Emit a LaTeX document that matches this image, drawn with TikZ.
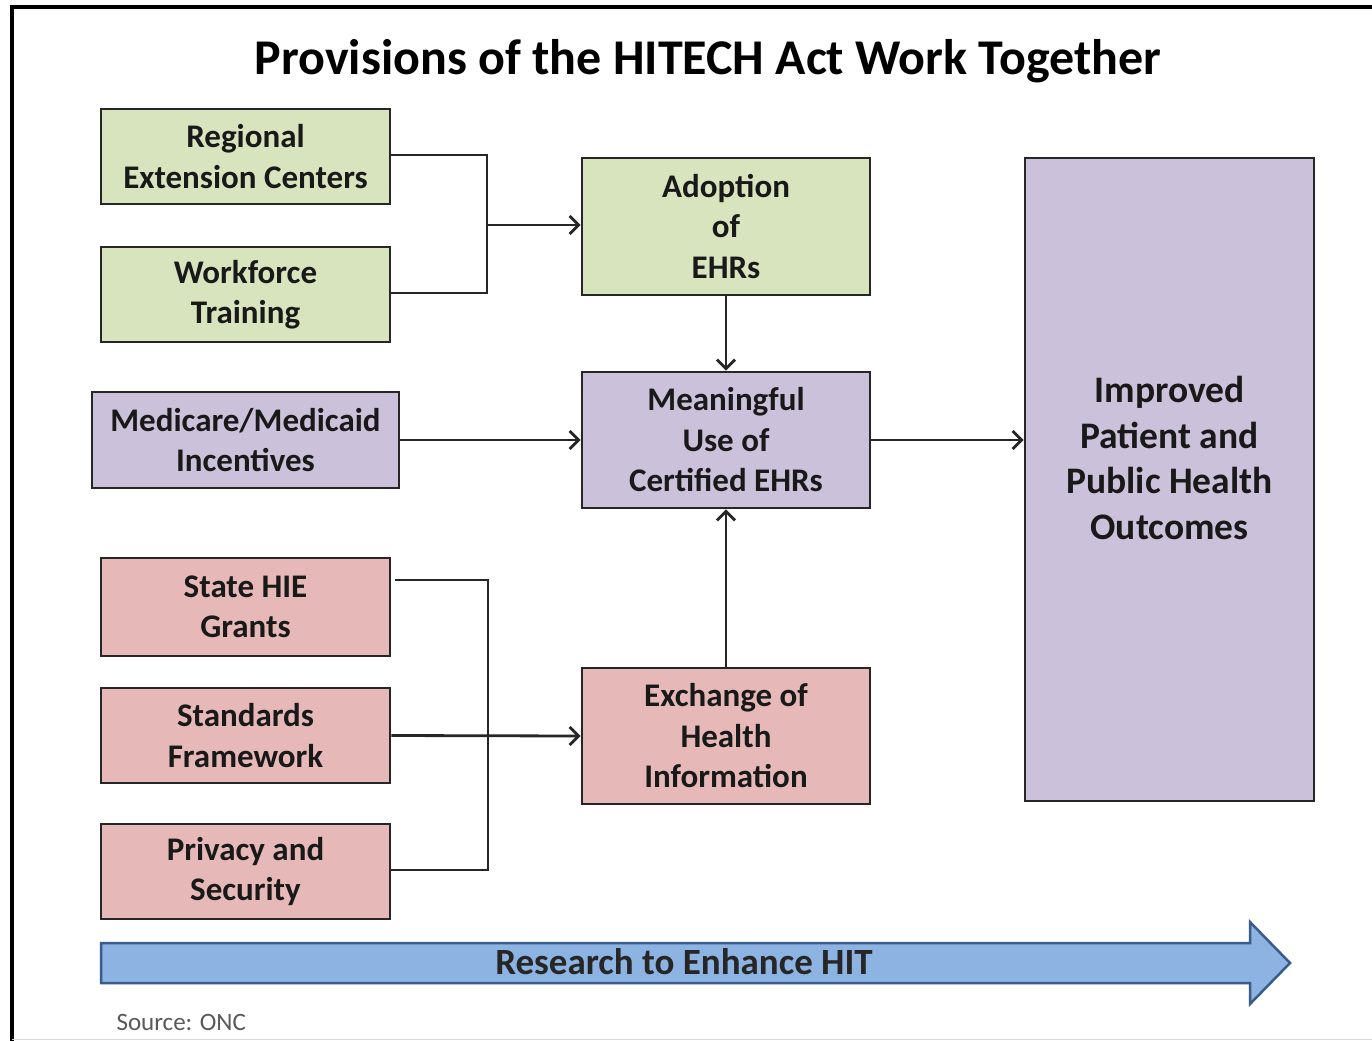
\documentclass[tikz,border=0pt]{standalone}
\usepackage{fontspec}
\setmainfont{Carlito}
\usetikzlibrary{arrows.meta}
\definecolor{boxgreen}{HTML}{D7E4BD}
\definecolor{boxpurple}{HTML}{CCC1DA}
\definecolor{boxpink}{HTML}{E6B9B8}
\definecolor{arrowblue}{HTML}{8DB3E2}
\definecolor{arrowedge}{HTML}{385D8A}
\begin{document}
\begin{tikzpicture}[x=1pt,y=-1pt,
  box/.style={draw=black!85, line width=2.8pt, align=center, inner sep=0pt,
    font=\fontsize{33}{40.5}\selectfont\bfseries, text=black!90},
  green/.style={box, fill=boxgreen},
  purple/.style={box, fill=boxpurple},
  pink/.style={box, fill=boxpink},
  conn/.style={line width=2.8pt, draw=black!85},
  arr/.style={conn, -{Straight Barb[length=9pt,width=18pt,line width=2.8pt]}}
]
\useasboundingbox (0,0) rectangle (1372,1041);
\fill[white] (0,0) rectangle (1372,1041);
% frame
\draw[line width=3.5pt] (12,1041) -- (12,7) -- (1372,7);
\draw[line width=1pt, black!15] (12,1039) -- (1372,1039);

\node[font=\fontsize{50}{56}\selectfont\bfseries] (title) at (708,61) {Provisions of the HITECH Act Work Together};

\node[green, minimum width=289pt, minimum height=95pt] (rec) at (245.5,156.5) {Regional\\Extension Centers};
\node[green, minimum width=289pt, minimum height=95pt] (wft) at (245.5,294.5) {Workforce\\Training};
\node[green, minimum width=288pt, minimum height=137pt] (adopt) at (726,226.5) {Adoption\\of\\EHRs};
\node[purple, minimum width=307pt, minimum height=96pt] (mmi) at (245.5,440) {Medicare/Medicaid\\Incentives};
\node[purple, minimum width=288pt, minimum height=136pt] (mu) at (726,440) {Meaningful\\Use of\\Certified EHRs};
\node[purple, minimum width=289pt, minimum height=643pt] (imp) at (1169.5,479.5) {};
\node[font=\fontsize{37.5}{45.5}\selectfont\bfseries, align=center, text=black!90] (imptext) at (1169.5,458) {Improved\\Patient and\\Public Health\\Outcomes};
\node[pink, minimum width=289pt, minimum height=98pt] (hie) at (245.5,607) {State HIE\\Grants};
\node[pink, minimum width=289pt, minimum height=95pt] (std) at (245.5,735.5) {Standards\\Framework};
\node[pink, minimum width=289pt, minimum height=95pt] (priv) at (245.5,871.5) {Privacy and\\Security};
\node[pink, minimum width=288pt, minimum height=136pt] (ex) at (726,736) {Exchange of\\Health\\Information};

% connectors
\coordinate (j1) at (487,225);
\draw[conn] (rec.east |- 0,155) -- (487,155) -- (487,293) -- (wft.east |- 0,293);
\draw[arr] (j1) -- (adopt.west |- j1);
\draw[arr] (adopt.south) -- (mu.north);
\draw[arr] (mmi.east) -- (mu.west);
\draw[arr] (mu.east) -- (imp.west |- mu.east);
\draw[arr] (ex.north) -- (mu.south);
\coordinate (hiestart) at (395,580);
\draw[conn] (hiestart) -- (488,580) -- (488,870) -- (priv.east |- 0,870);
\draw[arr] (std.east) -- (ex.west);

% research arrow
\draw[line width=2.5pt, draw=arrowedge, fill=arrowblue, line join=miter]
  (101,943) -- (1250,943) -- (1250,922) -- (1290,963) -- (1250,1004) -- (1250,983) -- (101,983) -- cycle;
\node[font=\fontsize{37}{42}\selectfont\bfseries, text=black!85] (research) at (684,962) {Research to Enhance HIT};

\node[anchor=west, font=\fontsize{25}{30}\selectfont, text=black!65] (src) at (113,1022) {Source: ONC};
\end{tikzpicture}
\end{document}
